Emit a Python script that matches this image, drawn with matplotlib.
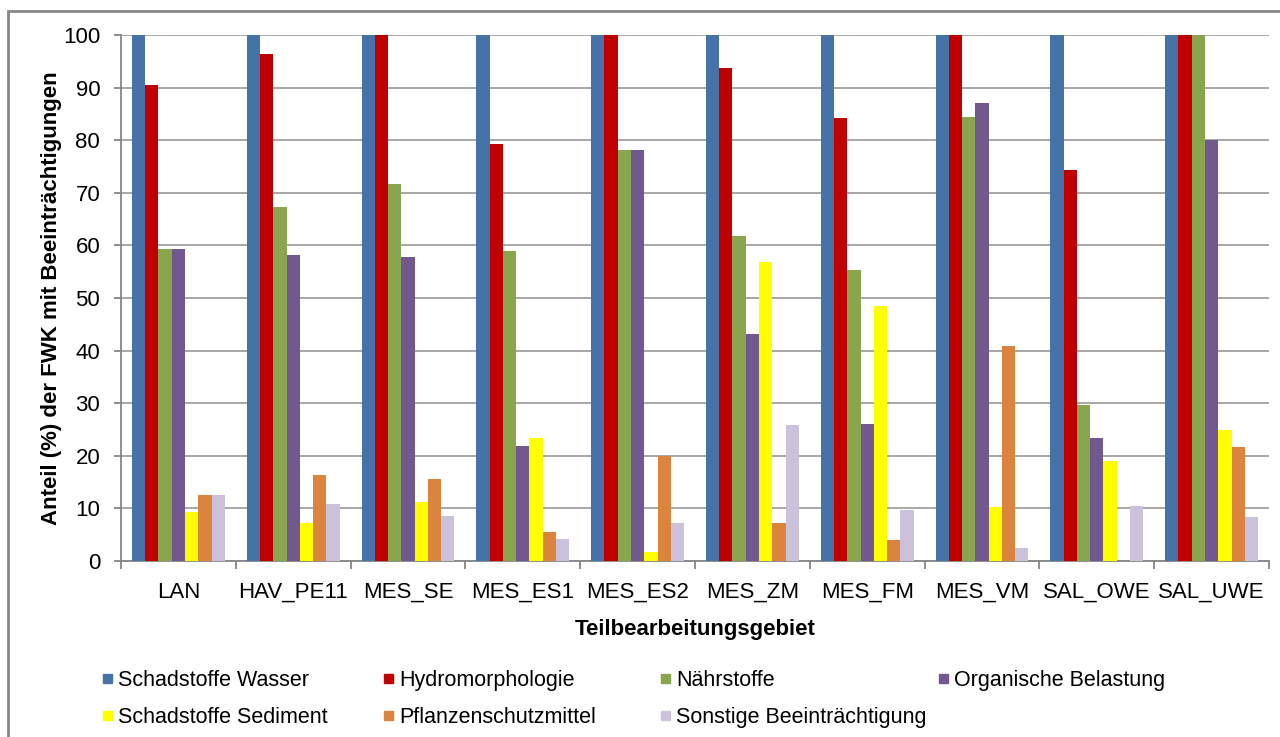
import numpy as np
import matplotlib
matplotlib.use("Agg")
import matplotlib.pyplot as plt
from matplotlib.patches import Rectangle

plt.rcParams["font.family"] = ["Liberation Sans", "DejaVu Sans"]

gebiete = ["LAN", "HAV_PE11", "MES_SE", "MES_ES1", "MES_ES2",
           "MES_ZM", "MES_FM", "MES_VM", "SAL_OWE", "SAL_UWE"]

schadstoffe_wasser = [100, 100, 100, 100, 100, 100, 100, 100, 100, 100]
hydromorphologie = [90.5, 96.3, 100, 79.3, 100, 93.7, 84.3, 100, 74.3, 100]
naehrstoffe = [59.3, 67.3, 71.7, 58.9, 78.1, 61.7, 55.3, 84.5, 29.7, 100]
organische_belastung = [59.3, 58.1, 57.7, 21.9, 78.1, 43.1, 26.1, 87.1, 23.3, 80.0]
schadstoffe_sediment = [9.4, 7.3, 11.3, 23.3, 1.7, 56.8, 48.5, 10.3, 19.1, 24.9]
pflanzenschutzmittel = [12.5, 16.3, 15.5, 5.5, 20.0, 7.3, 3.9, 40.9, 0, 21.7]
sonstige = [12.5, 10.9, 8.5, 4.1, 7.3, 25.9, 9.7, 2.5, 10.5, 8.3]

reihen = ["Schadstoffe Wasser", "Hydromorphologie", "Nährstoffe",
          "Organische Belastung", "Schadstoffe Sediment",
          "Pflanzenschutzmittel", "Sonstige Beeinträchtigung"]
farben = ["#4572A7", "#C00000", "#89A54E", "#71588F",
          "#FFFF00", "#DB843D", "#CCC1DA"]
werte = [schadstoffe_wasser, hydromorphologie, naehrstoffe,
         organische_belastung, schadstoffe_sediment,
         pflanzenschutzmittel, sonstige]

W, H = 1280, 737
fig = plt.figure(figsize=(W / 100, H / 100), dpi=100)
ax = fig.add_axes([121 / W, 1 - 561 / H, (1269 - 121) / W, (561 - 35) / H])

x = np.arange(len(gebiete))
breite = 0.81 / len(reihen)
for i, (name, farbe, y) in enumerate(zip(reihen, farben, werte)):
    ax.bar(x + (i - 3) * breite, y, width=breite, color=farbe,
           label=name, zorder=3)

ax.set_xlim(-0.5, len(gebiete) - 0.5)
ax.set_ylim(0, 100)
ax.set_yticks(range(0, 101, 10))
ax.set_xticks(x)
ax.set_xticklabels(gebiete)
ax.set_xticks(np.arange(-0.5, len(gebiete), 1), minor=True)

ax.grid(axis="y", color="#A0A0A0", linewidth=1.3, zorder=0)
for s in ["top", "right"]:
    ax.spines[s].set_visible(False)
for s in ["left", "bottom"]:
    ax.spines[s].set_color("#868686")
    ax.spines[s].set_linewidth(1.3)

ax.tick_params(axis="y", labelsize=16, length=5, width=1.3,
               color="#868686", pad=10)
ax.tick_params(axis="x", which="major", length=0, labelsize=16, pad=15)
ax.tick_params(axis="x", which="minor", length=6, width=1.3,
               color="#868686")

ax.set_ylabel("Anteil (%) der FWK mit Beeinträchtigungen",
              fontsize=16, fontweight="bold")
ax.yaxis.set_label_coords(-0.051, 0.5)
ax.set_xlabel("Teilbearbeitungsgebiet", fontsize=16, fontweight="bold")
ax.xaxis.set_label_coords(0.5, -0.11)

# Legende: 4 Spalten, 2 Zeilen
spalten = [103, 384, 661, 939]
zeilen = [678, 715]
for i, (name, farbe) in enumerate(zip(reihen, farben)):
    px = spalten[i % 4]
    py = zeilen[i // 4]
    fig.add_artist(Rectangle((px / W, 1 - (py + 4.5) / H), 9 / W, 9 / H,
                             transform=fig.transFigure, color=farbe))
    fig.text((px + 15) / W, 1 - py / H, name, fontsize=15.5,
             va="center_baseline", ha="left")

# Rahmen um das Diagramm
fig.add_artist(Rectangle((8 / W, 1 - 760 / H), 1300 / W, (760 - 11) / H,
                         transform=fig.transFigure, fill=False,
                         edgecolor="#868686", linewidth=2))

fig.savefig("out.png", dpi=100)
